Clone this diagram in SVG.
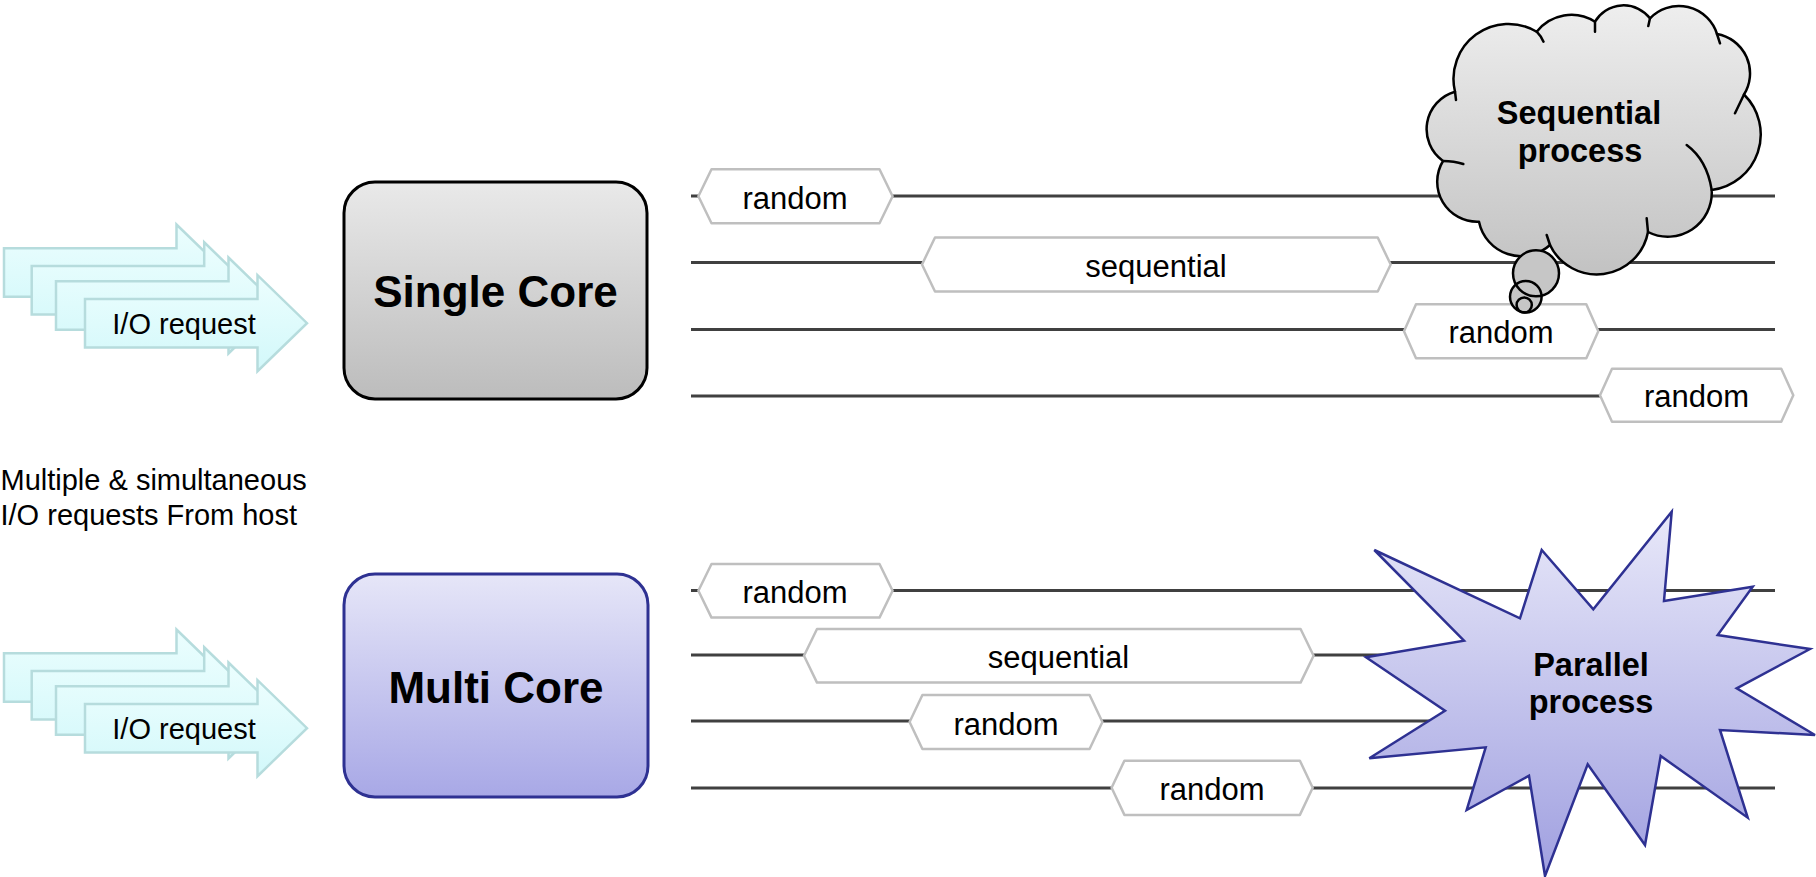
<svg xmlns="http://www.w3.org/2000/svg" width="1816" height="877" viewBox="0 0 1816 877">
  <defs>
    <linearGradient id="gArrow" x1="0" y1="0" x2="0" y2="1">
      <stop offset="0" stop-color="#ecfefe"/>
      <stop offset="1" stop-color="#d2f8fa"/>
    </linearGradient>
    <linearGradient id="gGray" x1="0" y1="0" x2="0" y2="1">
      <stop offset="0" stop-color="#e9e9e9"/>
      <stop offset="1" stop-color="#bcbcbc"/>
    </linearGradient>
    <linearGradient id="gBlue" x1="0" y1="0" x2="0" y2="1">
      <stop offset="0" stop-color="#e6e6f8"/>
      <stop offset="1" stop-color="#a8a8e6"/>
    </linearGradient>
    <linearGradient id="gCloud" x1="0" y1="0" x2="0" y2="1">
      <stop offset="0" stop-color="#eeeeee"/>
      <stop offset="1" stop-color="#c2c2c2"/>
    </linearGradient>
    <linearGradient id="gStar" x1="0" y1="0" x2="0" y2="1">
      <stop offset="0" stop-color="#e8e8f9"/>
      <stop offset="1" stop-color="#a0a0e0"/>
    </linearGradient>
    <!-- block arrow, origin at left end of the shaft centre line -->
    <path id="ioArrow" d="M0,-24.2 H172.5 V-48 L222,0 L172.5,48 V24.2 H0 Z"/>
  </defs>
  <style>
    .arrow { fill: url(#gArrow); stroke: #b6dcdd; stroke-width: 2.5; }
    .lane { stroke: #404040; stroke-width: 3; fill: none; }
    .hex { fill: #ffffff; stroke: #bfbfbf; stroke-width: 2.5; stroke-linejoin: round; }
    .txt { font-family: "Liberation Sans", Arial, sans-serif; fill: #000000; }
    .req { font-size: 29px; text-anchor: middle; }
    .lbl { font-size: 31px; text-anchor: middle; }
    .core { font-size: 44px; font-weight: bold; text-anchor: middle; }
    .proc { font-size: 32.5px; font-weight: bold; text-anchor: middle; }
    .cap { font-size: 29px; }
    .cloudline { fill: none; stroke: #000000; stroke-width: 2.5; stroke-linecap: round; }
  </style>

  <rect width="1816" height="877" fill="#ffffff"/>

  <!-- lanes (connectors) -->
  <g id="connectors">
    <line class="lane" x1="691" y1="196" x2="1775" y2="196"/>
    <line class="lane" x1="691" y1="262.5" x2="1775" y2="262.5"/>
    <line class="lane" x1="691" y1="329.5" x2="1775" y2="329.5"/>
    <line class="lane" x1="691" y1="396" x2="1775" y2="396"/>
    <line class="lane" x1="691" y1="590.5" x2="1775" y2="590.5"/>
    <line class="lane" x1="691" y1="655" x2="1775" y2="655"/>
    <line class="lane" x1="691" y1="721" x2="1775" y2="721"/>
    <line class="lane" x1="691" y1="788" x2="1775" y2="788"/>
  </g>

  <!-- incoming I/O requests, single core side -->
  <g id="requests-single">
    <use href="#ioArrow" class="arrow" transform="translate(4,272.5)"/>
    <use href="#ioArrow" class="arrow" transform="translate(31.7,290.3)"/>
    <use href="#ioArrow" class="arrow" transform="translate(56,305.5)"/>
    <use href="#ioArrow" class="arrow" transform="translate(85,323.2)"/>
    <text class="txt req" x="184" y="334">I/O request</text>
  </g>

  <!-- incoming I/O requests, multi core side -->
  <g id="requests-multi">
    <use href="#ioArrow" class="arrow" transform="translate(4,677.5)"/>
    <use href="#ioArrow" class="arrow" transform="translate(31.7,695.3)"/>
    <use href="#ioArrow" class="arrow" transform="translate(56,710.5)"/>
    <use href="#ioArrow" class="arrow" transform="translate(85,728.2)"/>
    <text class="txt req" x="184" y="739">I/O request</text>
  </g>

  <g id="caption">
    <text class="txt cap" x="0.5" y="490">Multiple &amp; simultaneous</text>
    <text class="txt cap" x="0.5" y="525">I/O requests From host</text>
  </g>

  <g id="single-core">
    <rect x="344" y="182" width="303" height="217" rx="31" fill="url(#gGray)" stroke="#000000" stroke-width="3"/>
    <text class="txt core" x="495.5" y="307">Single Core</text>
  </g>

  <g id="multi-core">
    <rect x="344" y="574" width="304" height="223" rx="31" fill="url(#gBlue)" stroke="#2e3192" stroke-width="3"/>
    <text class="txt core" x="496" y="703">Multi Core</text>
  </g>

  <!-- single core request slots -->
  <g id="single-r1">
    <polygon class="hex" points="698.4,196.3 711.5,169.3 879.5,169.3 892.6,196.3 879.5,223.3 711.5,223.3"/>
    <text class="txt lbl" x="795" y="209.3">random</text>
  </g>
  <g id="single-s2">
    <polygon class="hex" points="922,264.5 935,237.5 1377.7,237.5 1390.7,264.5 1377.7,291.5 935,291.5"/>
    <text class="txt lbl" x="1156" y="276.7">sequential</text>
  </g>
  <g id="single-r3">
    <polygon class="hex" points="1404,331.3 1416,304.3 1586.3,304.3 1598.3,331.3 1586.3,358.3 1416,358.3"/>
    <text class="txt lbl" x="1501" y="343.3">random</text>
  </g>
  <g id="single-r4">
    <polygon class="hex" points="1600,395.3 1612,368.8 1781.3,368.8 1793.3,395.3 1781.3,421.8 1612,421.8"/>
    <text class="txt lbl" x="1696.5" y="407">random</text>
  </g>

  <!-- multi core request slots -->
  <g id="multi-r1">
    <polygon class="hex" points="698.4,590.8 711.5,564 879.5,564 892.6,590.8 879.5,617.6 711.5,617.6"/>
    <text class="txt lbl" x="795" y="603">random</text>
  </g>
  <g id="multi-s2">
    <polygon class="hex" points="804,655.8 817,629 1300.6,629 1313.6,655.8 1300.6,682.6 817,682.6"/>
    <text class="txt lbl" x="1058.5" y="668">sequential</text>
  </g>
  <g id="multi-r3">
    <polygon class="hex" points="909.6,722 922.4,695 1089.6,695 1102.4,722 1089.6,749 922.4,749"/>
    <text class="txt lbl" x="1006" y="734.5">random</text>
  </g>
  <g id="multi-r4">
    <polygon class="hex" points="1111.6,787.8 1124.4,760.7 1299.9,760.7 1312.7,787.8 1299.9,814.9 1124.4,814.9"/>
    <text class="txt lbl" x="1212" y="800.3">random</text>
  </g>

  <!-- thought cloud -->
  <g id="sequential-process">
    <path d="M1455,91.7 A55 55 0 0 1 1536.7,31.7 A44 44 0 0 1 1595,21.7 A33.3 33.3 0 0 1 1650,18.3 A40 40 0 0 1 1717,34 A40 40 0 0 1 1744,94.5 A56 56 0 0 1 1711.7,190 A44 44 0 0 1 1648,232 A52 52 0 0 1 1550,245 A43 43 0 0 1 1479,221.7 A40 40 0 0 1 1443,161 A39 39 0 0 1 1455,91.7 Z" fill="url(#gCloud)" stroke="#000000" stroke-width="2.5" stroke-linejoin="round"/>
    <path class="cloudline" d="M1455,91.7 L1456,100 M1536.7,31.7 Q1541,36 1543.5,41.7 M1595,21.7 L1595,31.7 M1650,18.3 L1648.3,26 M1717,34 L1720,43.3 M1744,94.5 L1735,113.3 M1711.7,190 Q1707,160 1686.7,145 M1648,232 L1646.7,218.3 M1550,245 L1546.7,235 M1443,161 Q1454,161 1463.3,164"/>
    <circle cx="1536" cy="273.3" r="23" fill="#c6c6c6"/>
    <circle cx="1525.8" cy="296.8" r="15.8" fill="#c6c6c6"/>
    <circle cx="1524.2" cy="305" r="7.6" fill="#c6c6c6"/>
    <circle class="cloudline" cx="1536" cy="273.3" r="23"/>
    <circle class="cloudline" cx="1525.8" cy="296.8" r="15.8"/>
    <circle class="cloudline" cx="1524.2" cy="305" r="7.6"/>
    <text class="txt proc" x="1579" y="124.3">Sequential</text>
    <text class="txt proc" x="1580" y="162.3">process</text>
  </g>

  <!-- explosion burst -->
  <g id="parallel-process">
    <polygon points="1374.3,550 1520,618.3 1541.7,550 1593.3,609.3 1671.7,511.7 1664,601 1752.7,586.7 1717.7,635 1810,649 1736.7,688.3 1815,735 1720,730 1747.7,817.7 1660.7,756 1645,845 1587.7,764.3 1545,876 1529,775.7 1466.7,810 1485.7,747.3 1369.3,758.3 1445,710.7 1366,657.3 1464,640.7" fill="url(#gStar)" stroke="#2e3192" stroke-width="2.5" stroke-linejoin="miter"/>
    <text class="txt proc" x="1591" y="675.7">Parallel</text>
    <text class="txt proc" x="1591" y="713.3">process</text>
  </g>
</svg>
